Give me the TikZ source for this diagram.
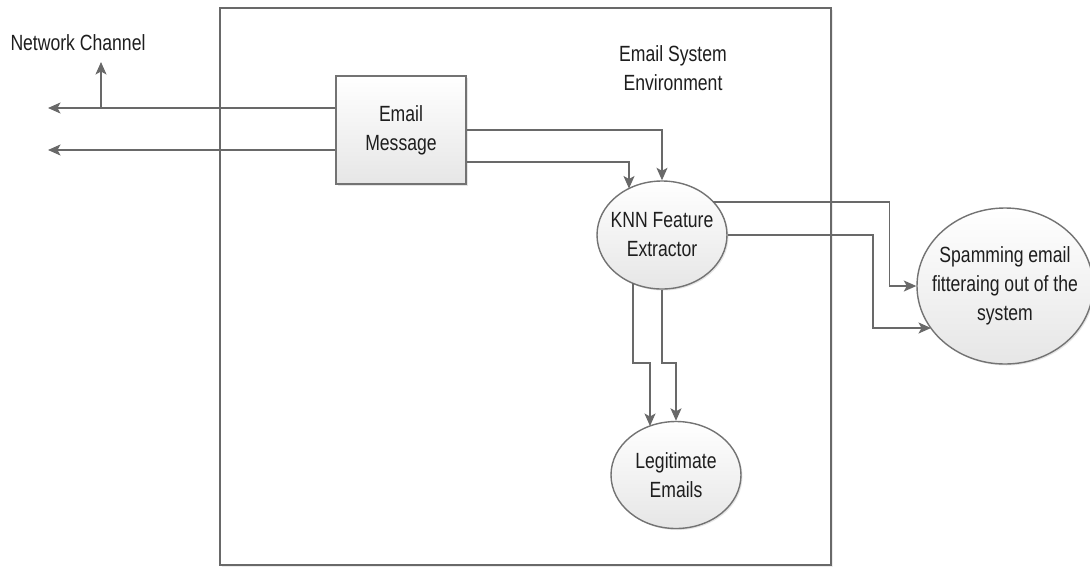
\documentclass[tikz,border=0pt]{standalone}
\usepackage{fontspec}
\setmainfont{Liberation Sans}[FakeStretch=0.8]
\usetikzlibrary{shapes.geometric,arrows.meta,shadows,calc}
\definecolor{lc}{RGB}{105,105,105}
\definecolor{bc}{RGB}{115,115,115}
\definecolor{tc}{RGB}{30,30,30}
\definecolor{fillb}{RGB}{230,230,230}
\tikzset{
  arr/.style={draw=lc, line width=1.4pt, -{Stealth[length=12.5pt,width=11pt,inset=3pt]}},
  shp/.style={draw=bc, line width=1.4pt, top color=white, bottom color=fillb,
    drop shadow={shadow xshift=1.5pt, shadow yshift=-1.5pt, opacity=0.2},
    text=tc, align=center, font=\fontsize{22}{29}\selectfont, inner sep=0pt},
  oval/.style={shp, ellipse, inner xsep=-14pt, inner ysep=-6pt},
  lbl/.style={text=tc, align=center, font=\fontsize{22}{29}\selectfont, inner sep=0pt}
}
\begin{document}
\begin{tikzpicture}[x=1pt,y=-1pt]
\useasboundingbox (0,0) rectangle (1090,566);
\fill[white] (0,0) rectangle (1090,566);
% environment
\node[draw=lc, line width=1.4pt, minimum width=611pt, minimum height=557pt, inner sep=0pt,
  drop shadow={shadow xshift=1.5pt, shadow yshift=-1.5pt, opacity=0.15}, fill=white] (env) at (525.5,286.5) {};
\node[lbl] (title) at (673,68) {Email System\\Environment};
\node[lbl] (net) at (78,43) {Network Channel};
% nodes
\node[shp, minimum width=130pt, minimum height=108pt] (em) at (401,130) {Email\\Message};
\node[oval, minimum width=130pt, minimum height=108pt] (knn) at (662,235) {KNN Feature\\Extractor};
\node[oval, minimum width=130pt, minimum height=107pt] (leg) at (676,475) {Legitimate\\Emails};
\node[oval, minimum width=176pt, minimum height=156pt] (spam) at (1005,286) {Spamming email\\fitteraing out of the\\system};
% coordinates
\coordinate (l1) at (48,108);
\coordinate (l2) at (48,150);
\coordinate (u0) at (101,108);
\coordinate (u1) at (101,62);
\coordinate (k2) at (629,188.5);
\coordinate (k3) at (713.4,202);
\coordinate (s2) at (931,328);
\coordinate (d1) at (633,283);
\coordinate (g1) at (650,426);
% connectors
\draw[arr] (em.west |- l1) -- (l1);
\draw[arr] (em.west |- l2) -- (l2);
\draw[arr] (u0) -- (u1);
\draw[arr] (em.east |- 0,130) -| (knn.north);
\draw[arr] (em.east |- 0,162) -| (k2);
\draw[arr] (k3) -| ($(spam.west)+(-27,0)$) -- (spam.west);
\draw[arr] (knn.east) -| (873,328) -- (s2);
\draw[arr] (d1) |- (650,363) -- (g1);
\draw[arr] (knn.south) |- (676,363) -- (leg.north);
\end{tikzpicture}
\end{document}
